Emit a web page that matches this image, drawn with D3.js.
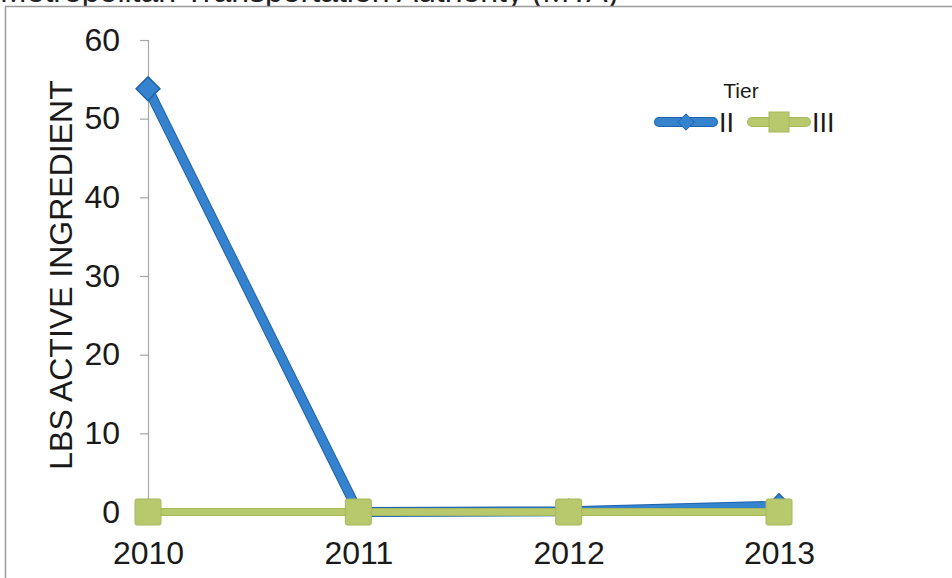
<!DOCTYPE html>
<html>
<head>
<meta charset="utf-8">
<script src="https://cdn.jsdelivr.net/npm/d3@7"></script>
<style>
  html, body { margin: 0; padding: 0; background: #fff; }
  svg { display: block; font-family: "Liberation Sans", Arial, sans-serif; }
</style>
</head>
<body>
<svg id="chart" width="952" height="578"></svg>
<script>
// Pesticide use by toxicity tier, pounds of active ingredient per year
const years = ["2010", "2011", "2012", "2013"];
const tierII = [53.8, 0, 0.1, 0.8];
const tierIII = [0, 0, 0, 0];
const yTicks = [0, 10, 20, 30, 40, 50, 60];
const seriesNames = ["II", "III"];
const titleText = "Metropolitan Transportation Authority (MTA)";
const yTitle = "LBS ACTIVE INGREDIENT";
const legendTitle = "Tier";

const svg = d3.select("#chart");
const W = 952, H = 578;
const FONT = "Liberation Sans, Arial, sans-serif";

const blue = "#3583cf", blueEdge = "#1f62aa";
const green = "#b7c96c", greenEdge = "#a6b85c";

// page heading sitting above the chart frame
svg.append("text")
  .attr("x", 0).attr("y", 2)
  .attr("font-size", 32).attr("fill", "#222")
  .text(titleText);

// chart frame
svg.append("rect").attr("x", 0).attr("y", 6).attr("width", W).attr("height", H)
  .attr("fill", "#fff");
svg.append("path")
  .attr("d", `M5.5,${H} V6.5 H${W}`)
  .attr("fill", "none").attr("stroke", "#9a9a9a").attr("stroke-width", 1.5);

const x = d3.scalePoint().domain(years).range([148, 779]);
const y = d3.scaleLinear().domain([0, 60]).range([512, 40]);

// y axis
const yAxis = svg.append("g").attr("transform", "translate(148,0)")
  .call(d3.axisLeft(y).tickValues(yTicks).tickSize(8).tickPadding(20).tickSizeOuter(8));
yAxis.select(".domain").attr("stroke", "#a6a6a6").attr("stroke-width", 1.2);
yAxis.selectAll(".tick line").attr("stroke", "#a6a6a6").attr("stroke-width", 1.2);
yAxis.selectAll(".tick text").attr("font-size", 32).attr("fill", "#1a1a1a")
  .attr("font-family", FONT);

// x axis labels (no visible line)
const xAxis = svg.append("g").attr("transform", "translate(0,512)")
  .call(d3.axisBottom(x).tickSize(0).tickPadding(29));
xAxis.select(".domain").remove();
xAxis.selectAll(".tick text").attr("font-size", 32).attr("fill", "#1a1a1a")
  .attr("font-family", FONT);

// y axis title
svg.append("text")
  .attr("transform", `translate(72,275) rotate(-90)`)
  .attr("text-anchor", "middle")
  .attr("font-size", 32).attr("fill", "#1a1a1a")
  .attr("font-family", FONT)
  .text(yTitle);

const line = d3.line().x((d, i) => x(years[i])).y(d => y(d));

function drawSeries(vals, col, edge, width) {
  svg.append("path").datum(vals).attr("d", line)
    .attr("fill", "none").attr("stroke", edge).attr("stroke-width", width + 2)
    .attr("stroke-linejoin", "round").attr("stroke-linecap", "round");
  svg.append("path").datum(vals).attr("d", line)
    .attr("fill", "none").attr("stroke", col).attr("stroke-width", width)
    .attr("stroke-linejoin", "round").attr("stroke-linecap", "round");
}

// Tier II first, Tier III drawn over it
drawSeries(tierII, blue, blueEdge, 8);

// diamond markers for Tier II
svg.append("g").selectAll("path").data(tierII).join("path")
  .attr("transform", (d, i) => `translate(${x(years[i])},${y(d)})`)
  .attr("d", d3.symbol(d3.symbolDiamond2, 360))
  .attr("fill", blue).attr("stroke", blueEdge).attr("stroke-width", 1.5);

drawSeries(tierIII, green, greenEdge, 6);

// square markers for Tier III
svg.append("g").selectAll("rect").data(tierIII).join("rect")
  .attr("x", (d, i) => x(years[i]) - 13).attr("y", d => y(d) - 13)
  .attr("width", 26).attr("height", 26).attr("rx", 2)
  .attr("fill", green).attr("stroke", greenEdge).attr("stroke-width", 1);

// legend
const lg = svg.append("g");
lg.append("text").attr("x", 741).attr("y", 98).attr("text-anchor", "middle")
  .attr("font-size", 21).attr("fill", "#1a1a1a").attr("font-family", FONT)
  .text(legendTitle);

const legendItems = [
  { name: seriesNames[0], col: blue, edge: blueEdge, x0: 659, sym: "diamond" },
  { name: seriesNames[1], col: green, edge: greenEdge, x0: 752, sym: "square" }
];
legendItems.forEach(it => {
  const ly = 122;
  lg.append("line").attr("x1", it.x0).attr("x2", it.x0 + 54).attr("y1", ly).attr("y2", ly)
    .attr("stroke", it.edge).attr("stroke-width", 10).attr("stroke-linecap", "round");
  lg.append("line").attr("x1", it.x0).attr("x2", it.x0 + 54).attr("y1", ly).attr("y2", ly)
    .attr("stroke", it.col).attr("stroke-width", 8).attr("stroke-linecap", "round");
  if (it.sym === "diamond") {
    lg.append("path").attr("transform", `translate(${it.x0 + 27},${ly})`)
      .attr("d", d3.symbol(d3.symbolDiamond2, 170))
      .attr("fill", it.col).attr("stroke", it.edge).attr("stroke-width", 1);
  } else {
    lg.append("rect").attr("x", it.x0 + 17).attr("y", ly - 10).attr("width", 20).attr("height", 20)
      .attr("fill", it.col).attr("stroke", it.edge).attr("stroke-width", 1);
  }
  lg.append("text").attr("x", it.x0 + 60).attr("y", ly + 10)
    .attr("font-size", 27).attr("fill", "#1a1a1a")
    .attr("font-family", FONT)
    .text(it.name);
});
</script>
</body>
</html>
